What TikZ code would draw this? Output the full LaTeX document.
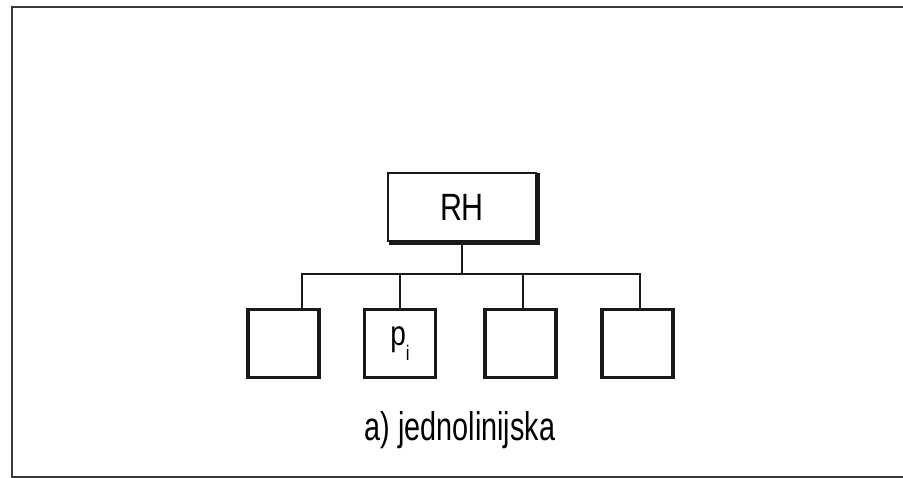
\documentclass[tikz,border=0pt]{standalone}
\usepackage{fontspec}
\setmainfont{Liberation Sans}
\newfontfamily\boxfont[FakeStretch=0.8]{Liberation Sans}
\newfontfamily\capfont[FakeStretch=0.72]{Liberation Sans}
\begin{document}
\begin{tikzpicture}[x=1pt, y=-1pt,
  ink/.style={draw=black!90},
  frameline/.style={draw=black!78, line width=2.2pt},
  unitbox/.style={ink, line width=3.4pt, minimum width=71pt, minimum height=68pt, inner sep=0pt},
  headbox/.style={ink, line width=2.4pt, minimum width=147.5pt, minimum height=67.5pt, inner sep=0pt,
    font=\boxfont\fontsize{38}{38}\selectfont},
  link/.style={ink, line width=1.5pt},
  caption/.style={font=\capfont\fontsize{40}{40}\selectfont, inner sep=0pt}
]
\useasboundingbox (0,0) rectangle (903,478);
\fill[white] (0,0) rectangle (903,478);

% outer frame, open on the right
\draw[frameline] (903,7) -- (12,7) -- (12,477) -- (903,477);

% head unit with a heavy shadow on the right and bottom
\node[headbox] (rh) at (462,207) {RH};
\draw[ink, line width=3pt, line cap=rect]
  ([xshift=1.2pt,yshift=-2pt]rh.north east) -- ([xshift=1.2pt,yshift=-1.2pt]rh.south east)
  -- ([xshift=3pt,yshift=-1.2pt]rh.south west);

% subordinate units
\node[unitbox] (b1) at (283.5,343.5) {};
\node[unitbox, font=\boxfont\fontsize{35}{35}\selectfont] (b2) at (400,343.5)
  {p\raisebox{-15pt}{\fontsize{21}{21}\selectfont i}};
\node[unitbox] (b3) at (520.5,343.5) {};
\node[unitbox] (b4) at (637.5,343.5) {};

% line organisation: one stem, one bar, four drops
\coordinate (j) at (462,274);
\draw[link] (rh.south) -- (j);
\draw[link] ([xshift=18.5pt]b1.north) |- (j);
\draw[link] (b2.north) |- (j);
\draw[link] ([xshift=2.5pt]b3.north) |- (j);
\draw[link] ([xshift=2.5pt]b4.north) |- (j);

\node[caption, anchor=base] (cap) at (460,440) {a) jednolinijska};
\end{tikzpicture}
\end{document}
